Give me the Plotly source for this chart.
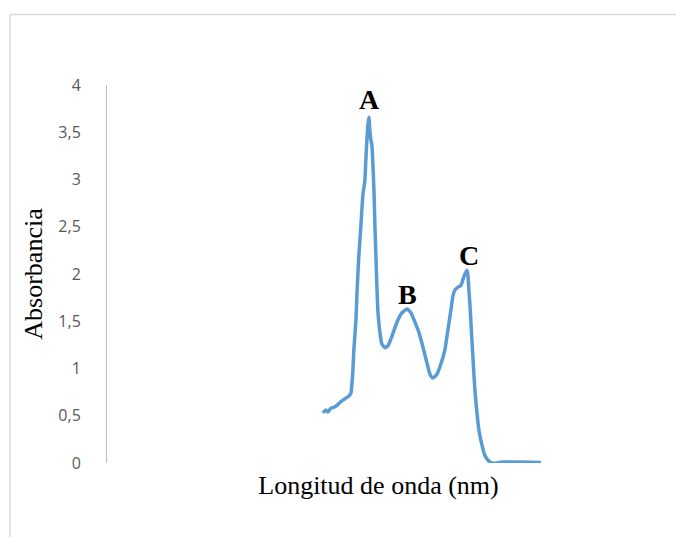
import plotly.graph_objects as go

# UV-Vis absorption spectrum
wavelength_nm = [
    200.0, 202.8, 204.6, 207.3, 210.1, 212.8, 216.5, 220.2, 223.9, 225.7,
    226.6, 227.5, 228.4, 230.3, 231.2, 233.0, 234.9, 236.7, 238.5, 239.4,
    240.4, 241.3, 242.2, 243.1, 244.0, 244.9, 245.9, 246.8, 247.7, 248.6,
    249.5, 250.5, 252.3, 254.1, 256.9, 259.6, 263.3, 267.9, 272.5, 277.1,
    280.7, 284.4, 288.1, 291.7, 295.4, 298.2, 300.9, 304.6, 308.3, 311.9,
    314.7, 317.4, 319.3, 321.1, 323.9, 326.6, 328.4, 330.3, 332.1, 333.0,
    333.9, 334.9, 335.8, 337.6, 339.4, 341.3, 343.1, 345.9, 348.6, 351.4,
    355.0, 359.6, 364.2, 380.7, 400.0,
]
absorbance = [
    0.53, 0.56, 0.54, 0.58, 0.59, 0.61, 0.65, 0.68, 0.71, 0.74,
    0.83, 0.98, 1.20, 1.51, 1.78, 2.20, 2.52, 2.84, 2.99, 3.21,
    3.42, 3.58, 3.66, 3.52, 3.42, 3.37, 3.15, 2.89, 2.52, 2.20,
    1.88, 1.60, 1.38, 1.26, 1.22, 1.24, 1.34, 1.49, 1.59, 1.63,
    1.59, 1.49, 1.38, 1.23, 1.06, 0.94, 0.90, 0.94, 1.05, 1.20,
    1.41, 1.62, 1.77, 1.83, 1.86, 1.88, 1.94, 2.00, 2.04, 1.99,
    1.83, 1.67, 1.48, 1.12, 0.77, 0.53, 0.35, 0.19, 0.08, 0.03,
    0.00, 0.00, 0.01, 0.01, 0.005,
]

# Peak labels and the wavelength windows they mark
peak_labels = ["A", "B", "C"]
peak_windows = [(230, 255), (265, 290), (320, 340)]

y_ticks = [0, 0.5, 1, 1.5, 2, 2.5, 3, 3.5, 4]
y_tick_text = ["0", "0,5", "1", "1,5", "2", "2,5", "3", "3,5", "4"]

LINE_BLUE = "#5B9BD5"

fig = go.Figure()
fig.add_trace(go.Scatter(
    x=wavelength_nm, y=absorbance, mode="lines",
    line=dict(color=LINE_BLUE, width=3.5, shape="spline", smoothing=0.5),
    hoverinfo="skip", showlegend=False,
))

# Letter above each absorption maximum
label_shifts = {"A": (1, 18), "B": (1, 14), "C": (2, 15)}
for label, (lo, hi) in zip(peak_labels, peak_windows):
    idx = [i for i, w in enumerate(wavelength_nm) if lo <= w <= hi]
    top = max(idx, key=lambda i: absorbance[i])
    dx, dy = label_shifts[label]
    fig.add_annotation(
        x=wavelength_nm[top], y=absorbance[top], text=f"<b>{label}</b>",
        showarrow=False, xshift=dx, yshift=dy, yanchor="middle",
        font=dict(family="Liberation Serif", size=28, color="black"),
    )

# Outer chart-area frame
fig.add_shape(
    type="rect", xref="paper", yref="paper",
    x0=-0.1786, x1=1.06, y0=-0.21, y1=1.1865,
    line=dict(color="#D9D9D9", width=1.5), fillcolor="rgba(0,0,0,0)",
    layer="below",
)

fig.update_layout(
    width=676, height=537,
    margin=dict(l=107, r=26, t=85, b=74),
    paper_bgcolor="white", plot_bgcolor="white",
    xaxis=dict(
        range=[2, 500], showline=False, showgrid=False, zeroline=False,
        showticklabels=False, ticks="",
        title=dict(text="Longitud de onda (nm)", standoff=12,
                   font=dict(family="Liberation Serif", size=26, color="black")),
    ),
    yaxis=dict(
        range=[0, 4], tickvals=y_ticks, ticktext=y_tick_text,
        showline=True, linecolor="#BFBFBF", linewidth=1,
        showgrid=False, zeroline=False, ticks="",
        ticklabelstandoff=22,
        tickfont=dict(family="Open Sans", size=16, color="#595959"),
        title=dict(text="Absorbancia", standoff=8,
                   font=dict(family="Liberation Serif", size=26, color="black")),
    ),
)

fig.write_html("out.html")
